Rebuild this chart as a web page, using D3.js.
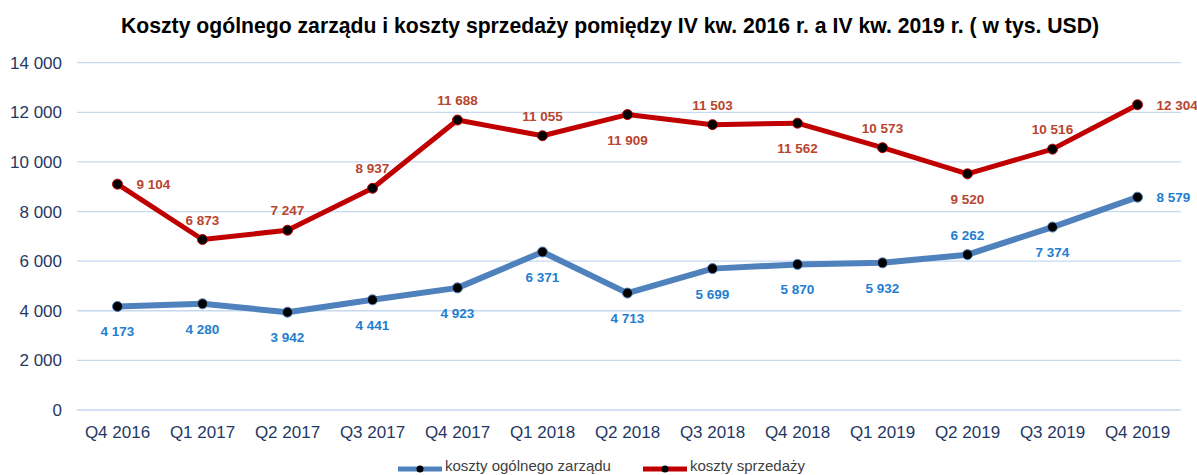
<!DOCTYPE html>
<html>
<head>
<meta charset="utf-8">
<script src="https://cdn.jsdelivr.net/npm/d3@7"></script>
<style>
  body { margin: 0; background: #fff; }
  svg { display: block; font-family: "Liberation Sans", Arial, sans-serif; }
</style>
</head>
<body>
<svg id="chart" width="1197" height="475"></svg>
<script>
const quarters = ['Q4 2016', 'Q1 2017', 'Q2 2017', 'Q3 2017', 'Q4 2017', 'Q1 2018', 'Q2 2018',
  'Q3 2018', 'Q4 2018', 'Q1 2019', 'Q2 2019', 'Q3 2019', 'Q4 2019'];
const zarzad = [4173, 4280, 3942, 4441, 4923, 6371, 4713, 5699, 5870, 5932, 6262, 7374, 8579];
const sprzedaz = [9104, 6873, 7247, 8937, 11688, 11055, 11909, 11503, 11562, 10573, 9520, 10516, 12304];
// label placement: a = above, b = below, r = right
const zarzadPos = ['b', 'b', 'b', 'b', 'b', 'b', 'b', 'b', 'b', 'b', 'a', 'b', 'r'];
const sprzedazPos = ['r', 'a', 'a', 'a', 'a', 'a', 'b', 'a', 'b', 'a', 'b', 'a', 'r'];
const yTicks = [0, 2000, 4000, 6000, 8000, 10000, 12000, 14000];

const svg = d3.select('#chart');
const fmt = (v) => d3.format(',')(v).replace(/,/g, ' ');

let x = d3.scalePoint().domain(quarters).range([117.5, 1137.5]);
let y = d3.scaleLinear().domain([0, 14000]).range([410, 62.7]);

svg.append('text')
  .attr('x', 610).attr('y', 33)
  .attr('text-anchor', 'middle')
  .attr('font-weight', 'bold')
  .attr('font-size', 21.2)
  .attr('fill', '#000')
  .text('Koszty ogólnego zarządu i koszty sprzedaży pomiędzy IV kw. 2016 r. a IV kw. 2019 r. ( w tys. USD)');

// grid + y labels
yTicks.forEach((t) => {
  svg.append('line')
    .attr('x1', 77).attr('x2', 1181)
    .attr('y1', y(t)).attr('y2', y(t))
    .attr('stroke', '#c6d9f0').attr('stroke-width', 1.3);
  svg.append('text')
    .attr('x', 62).attr('y', y(t) + 6)
    .attr('text-anchor', 'end')
    .attr('font-size', 17)
    .attr('fill', '#1f3864')
    .text(fmt(t));
});

quarters.forEach((q) => {
  svg.append('text')
    .attr('x', x(q)).attr('y', 438)
    .attr('text-anchor', 'middle')
    .attr('font-size', 17)
    .attr('fill', '#1f3864')
    .text(q);
});

let line = d3.line().x((d, i) => x(quarters[i])).y((d) => y(d));

function drawSeries(values, pos, lineColor, labelColor, width) {
  svg.append('path')
    .attr('d', line(values))
    .attr('fill', 'none')
    .attr('stroke', lineColor)
    .attr('stroke-width', width)
    .attr('stroke-linejoin', 'round');
  values.forEach((v, i) => {
    let cx = x(quarters[i]), cy = y(v);
    svg.append('circle')
      .attr('cx', cx).attr('cy', cy).attr('r', 5)
      .attr('fill', '#000')
      .attr('stroke', lineColor).attr('stroke-width', 1);
    let lbl = svg.append('text')
      .attr('font-size', 13.5)
      .attr('font-weight', 'bold')
      .attr('fill', labelColor)
      .text(fmt(v));
    if (pos[i] === 'r') {
      lbl.attr('x', cx + 19).attr('y', cy + 5).attr('text-anchor', 'start');
    } else if (pos[i] === 'a') {
      lbl.attr('x', cx).attr('y', cy - 15).attr('text-anchor', 'middle');
    } else {
      lbl.attr('x', cx).attr('y', cy + 30).attr('text-anchor', 'middle');
    }
  });
}

drawSeries(sprzedaz, sprzedazPos, '#c00000', '#b8452f', 5);
drawSeries(zarzad, zarzadPos, '#4f81bd', '#1f7ed0', 6);

// legend
const legend = [
  { label: 'koszty ogólnego zarządu', color: '#4f81bd', x: 398 },
  { label: 'koszty sprzedaży', color: '#c00000', x: 643 },
];
legend.forEach((d) => {
  svg.append('line')
    .attr('x1', d.x).attr('x2', d.x + 44)
    .attr('y1', 469).attr('y2', 469)
    .attr('stroke', d.color).attr('stroke-width', 5);
  svg.append('circle')
    .attr('cx', d.x + 22).attr('cy', 469).attr('r', 3.5)
    .attr('fill', '#000');
  svg.append('text')
    .attr('x', d.x + 47).attr('y', 471)
    .attr('font-size', 15)
    .attr('fill', '#404040')
    .text(d.label);
});
</script>
</body>
</html>
